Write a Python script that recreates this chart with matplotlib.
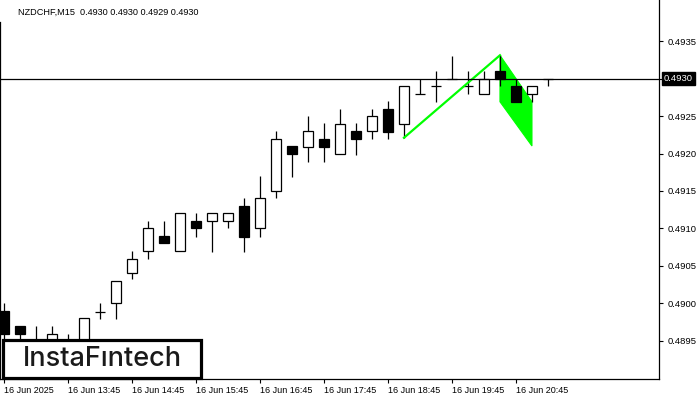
import matplotlib
matplotlib.use("Agg")
import matplotlib.pyplot as plt
from matplotlib.patches import Rectangle, Polygon

plt.rcParams["font.family"] = ["Liberation Sans", "DejaVu Sans"]

# ---- data (NZDCHF M15, 16 Jun 2025, from 12:45) ----
opens = [0.48990, 0.48970, 0.48945, 0.48945, 0.48948, 0.48945, 0.48989, 0.49001, 0.49040, 0.49070,
         0.49090, 0.49070, 0.49110, 0.49110, 0.49110, 0.49130, 0.49100, 0.49150, 0.49210, 0.49209,
         0.49220, 0.49199, 0.49230, 0.49230, 0.49259, 0.49240, 0.49280, 0.49290, 0.49300, 0.49290,
         0.49280, 0.49310, 0.49290, 0.49280, 0.49300]
closes = [0.48959, 0.48959, 0.48948, 0.48959, 0.48950, 0.48981, 0.48989, 0.49030, 0.49059, 0.49100,
          0.49080, 0.49121, 0.49100, 0.49121, 0.49121, 0.49089, 0.49140, 0.49220, 0.49200, 0.49230,
          0.49209, 0.49240, 0.49220, 0.49250, 0.49229, 0.49290, 0.49280, 0.49290, 0.49300, 0.49290,
          0.49300, 0.49300, 0.49269, 0.49290, 0.49300]
highs = [0.49001, 0.48970, 0.48970, 0.48970, 0.48959, 0.48981, 0.49001, 0.49030, 0.49070, 0.49110,
         0.49110, 0.49121, 0.49121, 0.49121, 0.49121, 0.49141, 0.49170, 0.49230, 0.49210, 0.49250,
         0.49241, 0.49259, 0.49241, 0.49259, 0.49270, 0.49290, 0.49300, 0.49310, 0.49330, 0.49310,
         0.49310, 0.49331, 0.49300, 0.49290, 0.49300]
lows = [0.48945, 0.48950, 0.48940, 0.48940, 0.48940, 0.48940, 0.48979, 0.48979, 0.49033, 0.49059,
        0.49080, 0.49070, 0.49089, 0.49069, 0.49101, 0.49069, 0.49089, 0.49140, 0.49169, 0.49189,
        0.49189, 0.49199, 0.49198, 0.49220, 0.49220, 0.49221, 0.49280, 0.49269, 0.49300, 0.49280,
        0.49280, 0.49290, 0.49269, 0.49269, 0.49290]

tick_idx = [0, 4, 8, 12, 16, 20, 24, 28, 32]
tick_labels = ["16 Jun 2025", "16 Jun 13:45", "16 Jun 14:45", "16 Jun 15:45", "16 Jun 16:45",
               "16 Jun 17:45", "16 Jun 18:45", "16 Jun 19:45", "16 Jun 20:45"]
price_ticks = [0.4895, 0.4900, 0.4905, 0.4910, 0.4915, 0.4920, 0.4925, 0.4930, 0.4935]
last_price = 0.4930

# bearish flag pattern
pole_x = [25, 31]
pole_y = [0.49221, 0.49331]
flag_x = [31, 33, 33, 31]
flag_y = [0.49331, 0.49269, 0.49210, 0.49269]

# ---- figure ----
fig = plt.figure(figsize=(7, 4), dpi=100)
ax = fig.add_axes([0, 21 / 400, 659 / 700, 379 / 400])
ax.set_xlim(-0.25, 40.94)
ax.set_ylim(0.488993, 0.494047)

bw = 0.62
for i, (o, h, l, c) in enumerate(zip(opens, highs, lows, closes)):
    ax.plot([i, i], [l, h], color="black", lw=0.9, zorder=3, solid_capstyle="butt")
    fc = "white" if c >= o else "black"
    ax.add_patch(Rectangle((i - bw / 2, min(o, c)), bw, abs(c - o),
                           facecolor=fc, edgecolor="black", lw=0.9, zorder=4))

ax.add_patch(Polygon(list(zip(flag_x, flag_y)), closed=True, facecolor="#00ff00",
                     edgecolor="#00ff00", lw=0.8, zorder=2))
ax.plot(pole_x, pole_y, color="#00ff00", lw=1.6, zorder=5)

ax.axhline(last_price, color="black", lw=0.9, zorder=6)

# axes styling
ax.spines["top"].set_visible(False)
for s in ["left", "right", "bottom"]:
    ax.spines[s].set_linewidth(0.9)
ax.spines["left"].set_bounds(0.488993, 0.49375)
ax.yaxis.tick_right()
ax.set_yticks(price_ticks)
ax.set_yticklabels(["" if p == last_price else f"{p:.4f}" for p in price_ticks])
ax.tick_params(axis="y", direction="out", length=3, width=0.8, labelsize=6.8, pad=3)
ax.set_xticks(tick_idx)
ax.set_xticklabels(tick_labels, ha="left")
ax.tick_params(axis="x", direction="out", length=3, width=0.8, labelsize=6.5, pad=2)

ax.annotate(f"{last_price:.4f}", xy=(1, last_price), xycoords=("axes fraction", "data"),
            xytext=(3.5, 0), textcoords="offset points", va="center", ha="left",
            fontsize=6.8, color="white",
            bbox=dict(boxstyle="square,pad=0.2", facecolor="black", edgecolor="black"))

fig.text(18 / 700, 1 - 12 / 400, "NZDCHF,M15  0.4930 0.4930 0.4929 0.4930",
         fontsize=6.6, va="center", ha="left")

# logo
fig.add_artist(Rectangle((3 / 700, 22 / 400), 198 / 700, 38 / 400, transform=fig.transFigure,
                         facecolor="white", edgecolor="black", lw=2.3, zorder=10))
fig.text(102 / 700, 1 - 359 / 400, "InstaF\u0131ntech", fontsize=19.5, family="Inter",
         fontweight="medium", color="#1a1a1a", ha="center", va="center", zorder=11)

fig.savefig("out.png", dpi=100)
